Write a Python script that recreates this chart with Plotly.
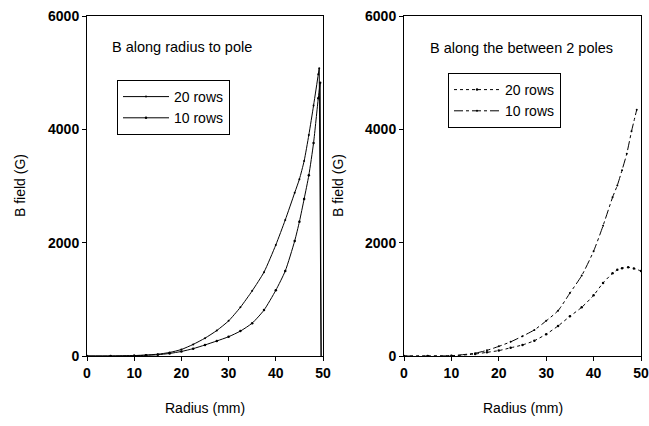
import plotly.graph_objects as go

# Left panel: B along radius to pole (last point = drop at the pole edge)
left_x = [0, 5, 10, 12.5, 15, 17.5, 20, 22.5, 25, 27.5, 30, 32.5, 35, 37.5, 40, 42, 44, 45, 46, 47, 48, 49, 49.2, 49.6]
left_20 = [0, 0, 8, 18, 32, 62, 115, 205, 315, 450, 620, 860, 1150, 1480, 1960, 2400, 2880, 3120, 3440, 3900, 4420, 4970, 5077, 0]
left_10_x = [0, 5, 10, 12.5, 15, 17.5, 20, 22.5, 25, 27.5, 30, 32.5, 35, 37.5, 40, 42, 44, 45, 46, 47, 48, 49, 49.4, 49.6]
left_10 = [0, 0, 5, 12, 22, 45, 80, 130, 195, 265, 340, 440, 580, 810, 1160, 1500, 2030, 2370, 2770, 3190, 3760, 4550, 4820, 0]

# Right panel: B along the between 2 poles
right_x = [0, 5, 10, 15, 17.5, 20, 22.5, 25, 27.5, 30, 32.5, 35, 37.5, 40, 42, 44, 45, 46, 47, 48, 49.1]
right_10 = [0, 0, 5, 50, 100, 170, 250, 350, 460, 620, 800, 1110, 1420, 1850, 2300, 2800, 3010, 3280, 3570, 3965, 4346]
right_20_x = [0, 5, 10, 15, 17.5, 20, 22.5, 25, 27.5, 30, 32.5, 35, 37.5, 40, 42, 44, 45, 46, 47.3, 48.5, 50]
right_20 = [0, 0, 3, 35, 65, 95, 145, 195, 270, 385, 530, 700, 860, 1070, 1290, 1460, 1520, 1550, 1565, 1545, 1500]

x_ticks = [0, 10, 20, 30, 40, 50]
y_ticks = [0, 2000, 4000, 6000]

FONT = "Liberation Sans"
W, H = 649, 426


def fx(p):
    return p / W


def fy(p):
    return 1 - p / H


fig = go.Figure()
# rising parts (smooth), then the sharp drop at the pole edge
fig.add_trace(go.Scatter(x=left_x[:-1], y=left_20[:-1], name="20 rows", mode="lines+markers",
                         line=dict(color="black", width=1, shape="spline", smoothing=0.6),
                         marker=dict(size=2, color="black"),
                         xaxis="x", yaxis="y", legend="legend", legendgroup="l20"))
fig.add_trace(go.Scatter(x=left_x[-2:], y=left_20[-2:], mode="lines", showlegend=False,
                         line=dict(color="black", width=1), xaxis="x", yaxis="y", legendgroup="l20"))
fig.add_trace(go.Scatter(x=left_10_x[:-1], y=left_10[:-1], name="10 rows", mode="lines+markers",
                         line=dict(color="black", width=1, shape="spline", smoothing=0.6),
                         marker=dict(size=2.5, color="black"),
                         xaxis="x", yaxis="y", legend="legend", legendgroup="l10"))
fig.add_trace(go.Scatter(x=left_10_x[-2:], y=left_10[-2:], mode="lines", showlegend=False,
                         line=dict(color="black", width=1), xaxis="x", yaxis="y", legendgroup="l10"))
fig.add_trace(go.Scatter(x=right_20_x, y=right_20, name="20 rows", mode="lines+markers",
                         line=dict(color="black", width=1, dash="dot", shape="spline", smoothing=0.6),
                         marker=dict(size=2.5, color="black"),
                         xaxis="x2", yaxis="y2", legend="legend2"))
fig.add_trace(go.Scatter(x=right_x, y=right_10, name="10 rows", mode="lines+markers",
                         line=dict(color="black", width=1, dash="dashdot", shape="spline", smoothing=0.6),
                         marker=dict(size=2, color="black"),
                         xaxis="x2", yaxis="y2", legend="legend2"))

ydom = [fy(356), fy(16)]
axcommon = dict(showgrid=False, zeroline=False, showline=True, linecolor="black", linewidth=1,
                mirror=True, ticks="outside", ticklen=4, tickcolor="black", automargin=False,
                ticklabeloverflow="allow",
                tickfont=dict(family=FONT, size=14, color="black", weight="bold"))
fig.update_layout(
    template="none",
    width=W, height=H, margin=dict(l=0, r=0, t=0, b=0, pad=0),
    paper_bgcolor="white", plot_bgcolor="white", showlegend=True,
    font=dict(family=FONT, color="black", size=14),
    xaxis=dict(domain=[fx(87), fx(323)], range=[0, 50], tickvals=x_ticks, anchor="y", **axcommon),
    yaxis=dict(domain=ydom, range=[0, 6000], tickvals=y_ticks, anchor="x", **axcommon),
    xaxis2=dict(domain=[fx(404), fx(641)], range=[0, 50], tickvals=x_ticks, anchor="y2", **axcommon),
    yaxis2=dict(domain=ydom, range=[0, 6000], tickvals=y_ticks, anchor="x2", **axcommon),
    legend=dict(x=fx(117), y=fy(80), xanchor="left", yanchor="top", bgcolor="white",
                bordercolor="black", borderwidth=1, font=dict(size=14), tracegroupgap=0,
                itemwidth=46),
    legend2=dict(x=fx(448), y=fy(73), xanchor="left", yanchor="top", bgcolor="white",
                 bordercolor="black", borderwidth=1, font=dict(size=14), tracegroupgap=0,
                 itemwidth=46),
    annotations=[
        dict(text="B along radius to pole", x=fx(110), y=fy(47), xref="paper", yref="paper",
             xanchor="left", yanchor="middle", showarrow=False, font=dict(size=14.5)),
        dict(text="B along the between 2 poles", x=fx(428), y=fy(48), xref="paper", yref="paper",
             xanchor="left", yanchor="middle", showarrow=False, font=dict(size=14.5)),
        dict(text="Radius (mm)", x=fx(205), y=fy(408), xref="paper", yref="paper",
             xanchor="center", yanchor="middle", showarrow=False, font=dict(size=14)),
        dict(text="Radius (mm)", x=fx(523), y=fy(408), xref="paper", yref="paper",
             xanchor="center", yanchor="middle", showarrow=False, font=dict(size=14)),
        dict(text="B field (G)", x=fx(20), y=fy(186), xref="paper", yref="paper", textangle=-90,
             xanchor="center", yanchor="middle", showarrow=False, font=dict(size=14)),
        dict(text="B field (G)", x=fx(338), y=fy(186), xref="paper", yref="paper", textangle=-90,
             xanchor="center", yanchor="middle", showarrow=False, font=dict(size=14)),
    ],
)
fig.write_html("out.html", config={"displayModeBar": False},
               post_script="document.body.style.margin='0';document.body.style.overflow='hidden';")
